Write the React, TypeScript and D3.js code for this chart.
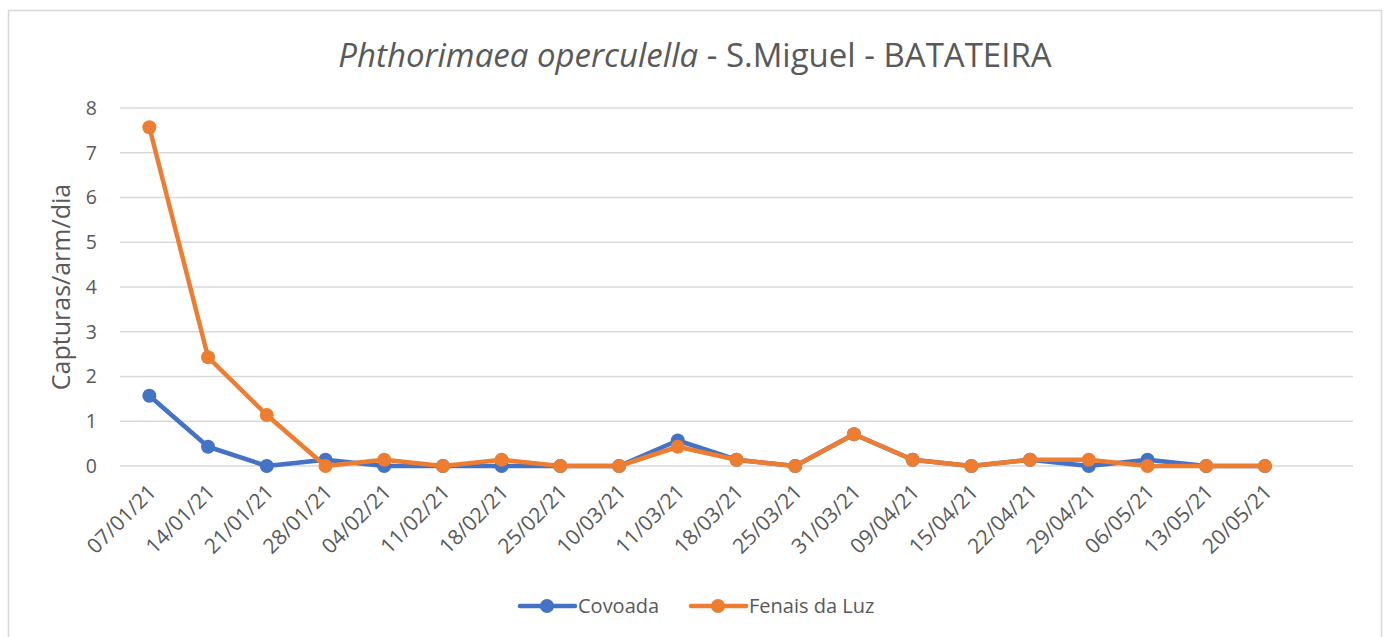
import * as d3 from "d3";
import React from "react";

const dates = [
  "07/01/21", "14/01/21", "21/01/21", "28/01/21", "04/02/21", "11/02/21", "18/02/21",
  "25/02/21", "10/03/21", "11/03/21", "18/03/21", "25/03/21", "31/03/21", "09/04/21",
  "15/04/21", "22/04/21", "29/04/21", "06/05/21", "13/05/21", "20/05/21", "",
];

const covoada = [1.57, 0.43, 0, 0.14, 0, 0, 0, 0, 0, 0.57, 0.14, 0, 0.71, 0.14, 0, 0.14, 0, 0.14, 0, 0];
const fenais = [7.57, 2.43, 1.14, 0, 0.14, 0, 0.14, 0, 0, 0.43, 0.14, 0, 0.71, 0.14, 0, 0.14, 0.14, 0, 0, 0];

const yTicks = [0, 1, 2, 3, 4, 5, 6, 7, 8];

const series = [
  { name: "Covoada", values: covoada, color: "#4472c4" },
  { name: "Fenais da Luz", values: fenais, color: "#ed7d31" },
];

const W = 1387;
const H = 637;
const left = 120;
const right = 1353;
const top = 108;
const bottom = 466;
const textColor = "#595959";
const font = "'Open Sans', sans-serif";

export default function App() {
  const x = d3.scaleBand<string>().domain(dates.map((d, i) => String(i))).range([left, right]);
  const y = d3.scaleLinear().domain([0, 8]).range([bottom, top]);
  const cx = (i: number) => (x(String(i)) ?? 0) + x.bandwidth() / 2;

  const line = d3
    .line<number>()
    .x((_, i) => cx(i))
    .y((d) => y(d));

  return (
    <svg width={W} height={H} style={{ position: "absolute", left: 0, top: 0, background: "#fff" }}>
      <rect x={8.5} y={10.5} width={1373} height={700} fill="#fff" stroke="#d9d9d9" strokeWidth={1.5} />
      <text x={695} y={67} textAnchor="middle" fontFamily={font} fontSize={33} fill={textColor}>
        <tspan fontStyle="italic">Phthorimaea operculella</tspan>
        <tspan> - S.Miguel - BATATEIRA</tspan>
      </text>
      {yTicks.map((t) => (
        <g key={t}>
          <line x1={left} x2={right} y1={y(t)} y2={y(t)} stroke="#d9d9d9" strokeWidth={1.5} />
          <text x={97} y={y(t)} dy="0.35em" textAnchor="end" fontFamily={font} fontSize={19.5} fill={textColor}>
            {t}
          </text>
        </g>
      ))}
      <text
        transform={`translate(70, ${(top + bottom) / 2}) rotate(-90)`}
        textAnchor="middle"
        fontFamily={font}
        fontSize={25}
        fill={textColor}
      >
        Capturas/arm/dia
      </text>
      {dates.map((d, i) =>
        d ? (
          <text
            key={i}
            transform={`translate(${cx(i) + 3}, ${bottom + 22}) rotate(-45)`}
            textAnchor="end"
            dy="0.35em"
            fontFamily={font}
            fontSize={21}
            fill={textColor}
          >
            {d}
          </text>
        ) : null
      )}
      {series.map((s) => (
        <g key={s.name}>
          <path d={line(s.values) || undefined} fill="none" stroke={s.color} strokeWidth={4.5} strokeLinejoin="round" />
          {s.values.map((v, i) => (
            <circle key={i} cx={cx(i)} cy={y(v)} r={7} fill={s.color} />
          ))}
        </g>
      ))}
      {series.map((s, i) => {
        const lx = 520 + i * 171;
        return (
          <g key={s.name}>
            <line x1={lx} x2={lx + 55} y1={606} y2={606} stroke={s.color} strokeWidth={4.5} strokeLinecap="round" />
            <circle cx={lx + 27} cy={606} r={7} fill={s.color} />
            <text x={lx + 58} y={606} dy="0.35em" fontFamily={font} fontSize={20} fill={textColor}>
              {s.name}
            </text>
          </g>
        );
      })}
    </svg>
  );
}
